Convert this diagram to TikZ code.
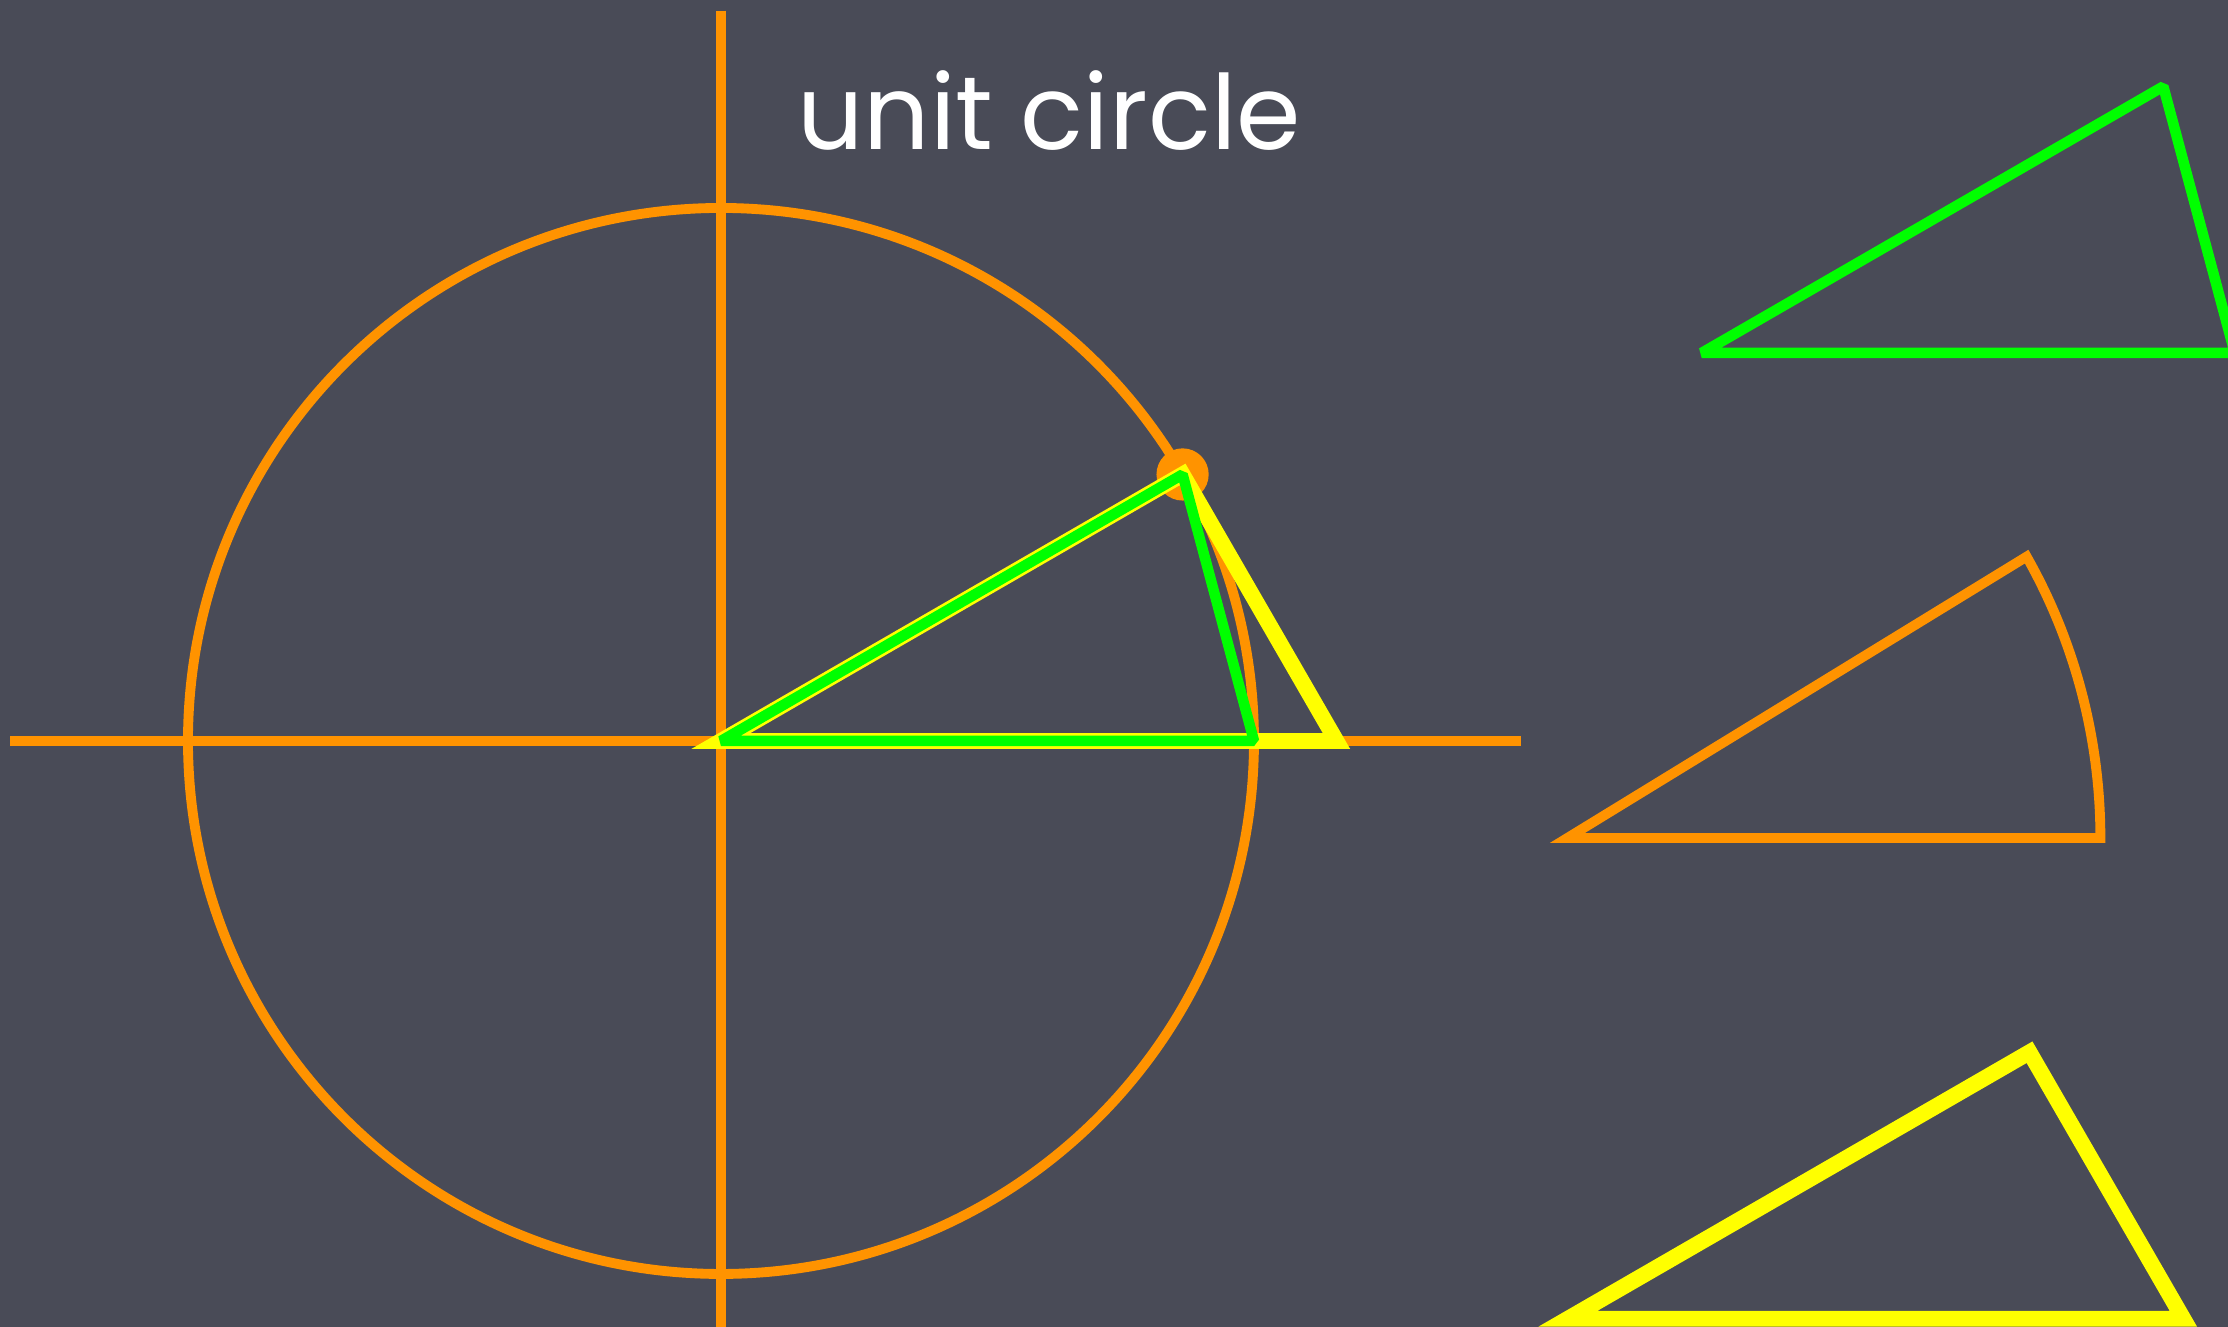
\documentclass[tikz,border=0pt]{standalone}
\usepackage{fontspec}
\setmainfont{Poppins}
\usetikzlibrary{positioning,calc}
\definecolor{slatebg}{RGB}{73,75,87}
\definecolor{unitorange}{RGB}{255,147,0}
\definecolor{unitgreen}{RGB}{0,255,0}
\definecolor{unityellow}{RGB}{255,255,0}

\begin{document}
\begin{tikzpicture}[x=5.33cm, y=5.33cm,
  axis/.style={draw=unitorange, line width=2.8pt},
  sector/.style={draw=unitorange, line width=2.8pt, line join=miter},
  sine/.style={draw=unitgreen, line width=3pt, line join=bevel},
  tangent/.style={draw=unityellow, line width=4.5pt, line join=miter},
  title/.style={text=white, font=\fontsize{29.5}{36}\selectfont,
    anchor=base west, inner sep=0pt}
]
\fill[slatebg] (-1.3527,-1.0994) rectangle (2.8274,1.3902);
\useasboundingbox (-1.3527,-1.0994) rectangle (2.8274,1.3902);

\coordinate (O) at (0,0);
\coordinate (A) at (1,0);
\coordinate (P) at (30:1);
\coordinate (T) at ({1/cos(30)},0);

% axes and circle
\draw[axis] (-1.333,0) -- (1.5,0);
\draw[axis] (0,1.37) -- (0,-1.2);
\draw[axis] (O) circle (1);
\fill[unitorange] (P) circle (0.049);

\draw[tangent] (O) -- (P) -- (T) -- cycle;
\draw[sine] (O) -- (P) -- (A) -- cycle;

\node[title] (label) at (0.142,1.109) {unit circle};

% the three pieces, set apart
\coordinate (G) at (1.840,0.728);
\coordinate (C) at (1.588,-0.182);
\coordinate (Y) at (1.589,-1.084);

\draw[sine] (G) -- ++(30:1) -- ($(G)+(1,0)$) -- cycle;
\draw[sector] (C) -- ++(1,0)
  arc[start angle=0, end angle=30.5, x radius=1, y radius=1.04] -- cycle;
\draw[tangent] (Y) -- ++(30:1) -- ($(Y)+({1/cos(30)},0)$) -- cycle;
\end{tikzpicture}
\end{document}
